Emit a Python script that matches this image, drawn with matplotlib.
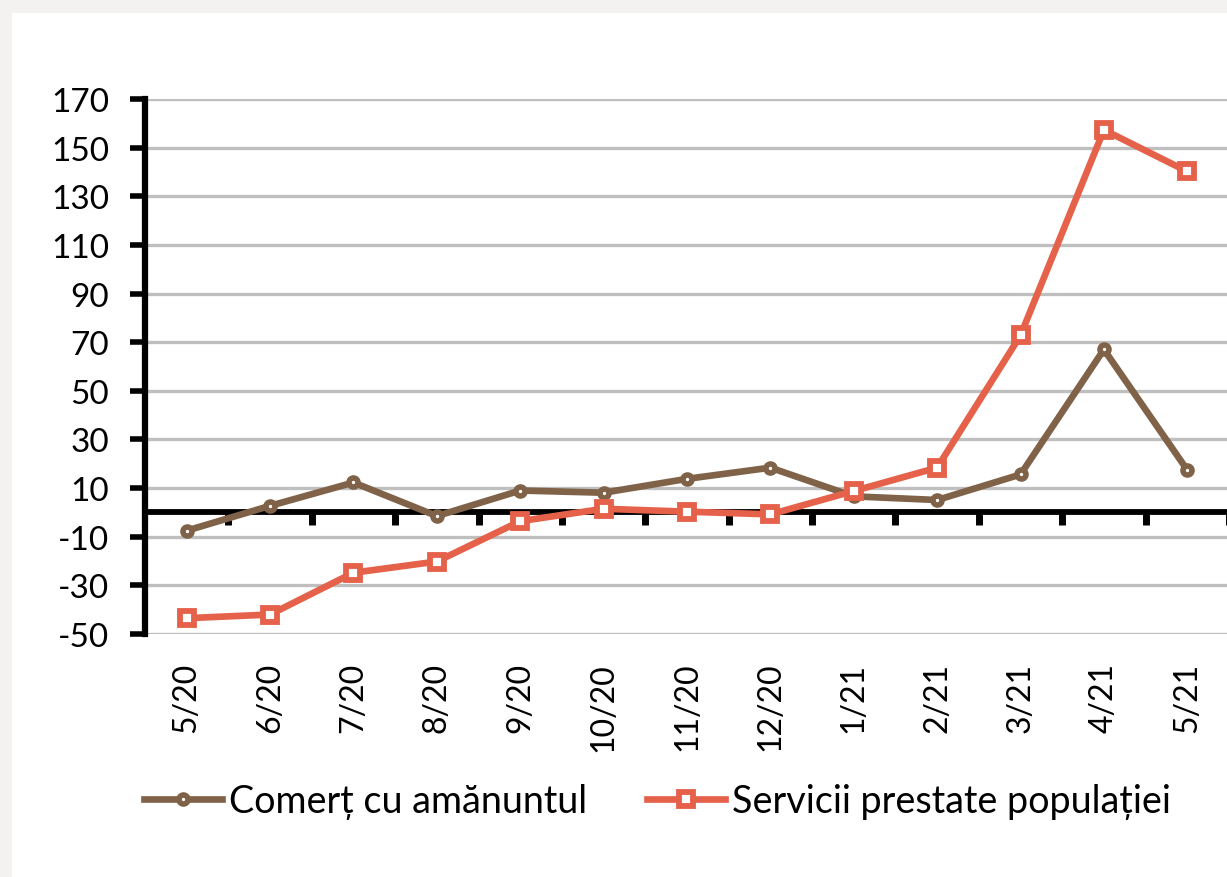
import matplotlib
matplotlib.use("Agg")
import matplotlib.pyplot as plt
from matplotlib.patches import Rectangle
import numpy as np

plt.rcParams['font.family'] = ['Lato', 'DejaVu Sans']
plt.rcParams['axes.unicode_minus'] = False

months = ["5/20", "6/20", "7/20", "8/20", "9/20", "10/20", "11/20", "12/20",
          "1/21", "2/21", "3/21", "4/21", "5/21"]
comert = [-7.5, 2.7, 12.3, -1.5, 9.0, 8.1, 13.8, 18.4, 6.6, 5.1, 15.6, 67.0, 17.4]
servicii = [-43.5, -42.0, -24.8, -20.2, -3.6, 1.5, 0.3, -0.8, 8.8, 18.4, 72.8, 157.3, 140.2]
yticks = [-50, -30, -10, 10, 30, 50, 70, 90, 110, 130, 150, 170]
label_comert = "Comerț cu amănuntul"
label_servicii = "Servicii prestate populației"

W, H = 1227, 878
fig = plt.figure(figsize=(W / 100, H / 100), dpi=100, facecolor="#f4f2f0")
fig.patches.append(Rectangle((12 / W, 0), 1, 1 - 14 / H, transform=fig.transFigure,
                             facecolor="white", edgecolor="none", zorder=-10))

left, right = 145 / W, 1229 / W
bottom, top = 1 - 635 / H, 1 - 100 / H
ax = fig.add_axes([left, bottom, right - left, top - bottom])
ax.set_facecolor("white")

x = np.arange(len(months))
ymin, ymax = -50, 170
ax.set_xlim(-0.5, len(months) - 0.5)
ax.set_ylim(ymin, ymax)

for yv in yticks:
    ax.axhline(yv, color="#bfbfbf", lw=2.4, zorder=1)

ax.plot(x, comert, color="#7f6248", lw=4.8, marker="o", ms=6.5, mfc="white",
        mec="#7f6248", mew=4, label=label_comert, zorder=4, clip_on=False)
ax.plot(x, servicii, color="#e5614a", lw=4.8, marker="s", ms=10, mfc="white",
        mec="#e5614a", mew=4.2, label=label_servicii, zorder=5, clip_on=False)

# spines
for s in ["top", "right", "bottom"]:
    ax.spines[s].set_visible(False)
ax.spines["left"].set_linewidth(4.5)
ax.spines["left"].set_color("black")

ax.set_yticks(yticks)
ax.tick_params(axis="y", direction="out", length=11, width=4, pad=15,
               labelsize=24, colors="black")
ax.set_xticks(x)
ax.set_xticklabels(months, rotation=90, va="top", ha="center")
ax.tick_params(axis="x", length=0, pad=20, labelsize=23)

# zero axis line with boundary ticks
zero_loc = (0 - ymin) / (ymax - ymin)
sec = ax.secondary_xaxis(zero_loc)
sec.spines["bottom"].set_linewidth(4.2)
sec.spines["bottom"].set_color("black")
sec.set_xticks(x + 0.5)
sec.tick_params(axis="x", direction="out", length=9, width=5, labelbottom=False)
sec.set_zorder(3)

handles, labels = ax.get_legend_handles_labels()
fig.legend(handles, labels, loc="center left", bbox_to_anchor=(144 / W, 1 - 802 / H),
           ncol=2, frameon=False, fontsize=27.2, handlelength=2.07, handletextpad=0.17,
           columnspacing=1.6, borderpad=0, borderaxespad=0)

fig.savefig("out.png", dpi=100, facecolor=fig.get_facecolor())
